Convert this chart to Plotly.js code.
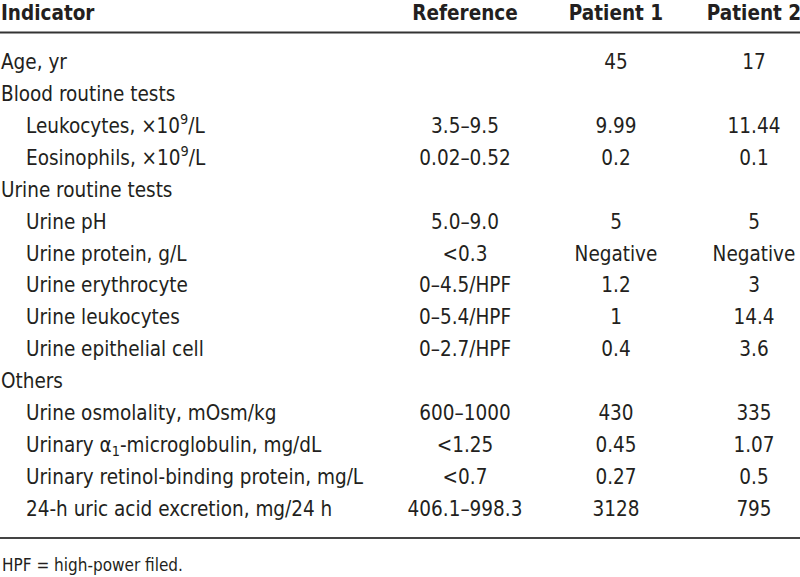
<!DOCTYPE html>
<html><head><meta charset="utf-8">
<script src="https://cdn.plot.ly/plotly-3.0.1.min.js"></script>
<style>html,body{margin:0;padding:0;background:#fff}</style>
</head><body><div id="chart" style="width:800px;height:577px"></div>
<script>
const headers = ["Indicator", "Reference", "Patient 1", "Patient 2"];
const indicators = ["Age, yr", "Blood routine tests", "Leukocytes, ×10<sup>9</sup>/L", "Eosinophils, ×10<sup>9</sup>/L",
  "Urine routine tests", "Urine pH", "Urine protein, g/L", "Urine erythrocyte", "Urine leukocytes", "Urine epithelial cell",
  "Others", "Urine osmolality, mOsm/kg", "Urinary α<sub>1</sub>-microglobulin, mg/dL", "Urinary retinol-binding protein, mg/L",
  "24-h uric acid excretion, mg/24 h"];
const levels = [0, 0, 1, 1, 0, 1, 1, 1, 1, 1, 0, 1, 1, 1, 1];
const reference = ["", "", "3.5–9.5", "0.02–0.52", "", "5.0–9.0", "&lt;0.3", "0–4.5/HPF", "0–5.4/HPF", "0–2.7/HPF", "",
  "600–1000", "&lt;1.25", "&lt;0.7", "406.1–998.3"];
const patient1 = ["45", "", "9.99", "0.2", "", "5", "Negative", "1.2", "1", "0.4", "", "430", "0.45", "0.27", "3128"];
const patient2 = ["17", "", "11.44", "0.1", "", "5", "Negative", "3", "14.4", "3.6", "", "335", "1.07", "0.5", "795"];
const footnote = "HPF = high-power filed.";

const FONT = "'DejaVu Sans Condensed', 'Liberation Sans', Arial, sans-serif";
const TXT = "#231f20";
const SIZE = 20.5;

function column(values, xFn, pos) {
  const idx = values.map((v, i) => i).filter(i => values[i] !== "");
  return {x: idx.map(xFn), y: idx, text: idx.map(i => values[i]), mode: "text", textposition: pos,
    textfont: {family: FONT, size: SIZE, color: TXT}, hoverinfo: "skip", type: "scatter", cliponaxis: false};
}
const colX = [1, 465, 616, 754];

const traces = [
  column(indicators, i => levels[i] === 0 ? 1 : 26, "middle right"),
  column(reference, () => colX[1], "middle center"),
  column(patient1, () => colX[2], "middle center"),
  column(patient2, () => colX[3], "middle center"),
  {x: colX, y: headers.map(() => -1.54), text: headers.map(h => "<b>" + h + "</b>"),
   mode: "text", textposition: ["middle right", "middle center", "middle center", "middle center"],
   textfont: {family: FONT, size: SIZE, color: TXT}, hoverinfo: "skip", type: "scatter", cliponaxis: false}
];

const layout = {
  width: 800, height: 577, margin: {l: 0, r: 0, t: 0, b: 0},
  paper_bgcolor: "#fff", plot_bgcolor: "#fff", showlegend: false,
  xaxis: {range: [0, 800], visible: false, fixedrange: true},
  yaxis: {range: [16.08, -2.007], visible: false, fixedrange: true},
  shapes: [
    {type: "line", xref: "paper", yref: "paper", x0: 0, x1: 1, y0: 1 - 32.5/577, y1: 1 - 32.5/577, line: {color: "#333", width: 2}},
    {type: "line", xref: "paper", yref: "paper", x0: 0, x1: 1, y0: 1 - 538/577, y1: 1 - 538/577, line: {color: "#444", width: 2}}
  ],
  annotations: [
    {xref: "paper", yref: "paper", x: 0, y: 1 - 565/577, xanchor: "left", yanchor: "middle", showarrow: false,
     text: footnote, font: {family: FONT, size: 17, color: TXT}}
  ]
};
Plotly.newPlot("chart", traces, layout, {displayModeBar: false, staticPlot: true});
</script></body></html>
